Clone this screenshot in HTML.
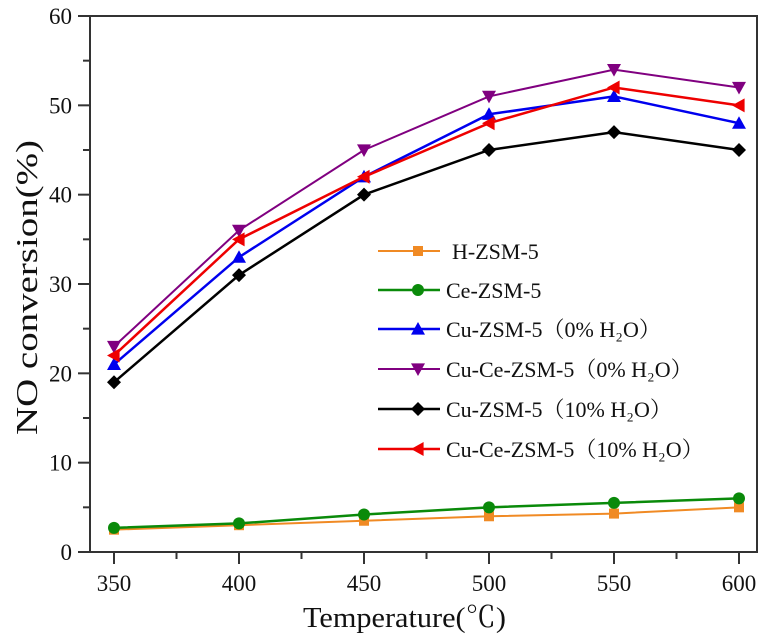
<!DOCTYPE html>
<html><head><meta charset="utf-8"><style>
html,body{margin:0;padding:0;background:#fff;}
svg{display:block;font-family:"Liberation Serif","Noto Serif CJK SC",serif;}
</style></head><body>
<svg id="chart" width="774" height="644" viewBox="0 0 774 644" xmlns="http://www.w3.org/2000/svg"></svg>
<script>
const categories = [350, 400, 450, 500, 550, 600];
const hZsm5 = [2.5, 3.0, 3.5, 4.0, 4.3, 5.0];
const ceZsm5 = [2.7, 3.2, 4.2, 5.0, 5.5, 6.0];
const cuZsm5Dry = [21, 33, 42, 49, 51, 48];
const cuCeZsm5Dry = [23, 36, 45, 51, 54, 52];
const cuZsm5Wet = [19, 31, 40, 45, 47, 45];
const cuCeZsm5Wet = [22, 35, 42, 48, 52, 50];
const yTicks = [0, 10, 20, 30, 40, 50, 60];
const xTicks = [350, 400, 450, 500, 550, 600];
const seriesNames = ["H-ZSM-5", "Ce-ZSM-5", "Cu-ZSM-5（0% H₂O）", "Cu-Ce-ZSM-5（0% H₂O）", "Cu-ZSM-5（10% H₂O）", "Cu-Ce-ZSM-5（10% H₂O）"];

const NS = "http://www.w3.org/2000/svg";
const svg = document.getElementById("chart");
const L = 90, R = 757, T = 16, B = 552;
const xS = v => 114 + (v - 350) * 2.5;
const yS = v => B - v * (B - T) / 60;
function mk(tag, attrs, parent) {
  const e = document.createElementNS(NS, tag);
  for (const k in attrs) e.setAttribute(k, attrs[k]);
  (parent || svg).appendChild(e);
  return e;
}
const frame = mk("rect", {x: L, y: T, width: R - L, height: B - T, fill: "none", stroke: "#333", "stroke-width": 2});


for (let v = 0; v <= 60; v += 5) {
  const t = mk("line", {x1: L - (v % 10 === 0 ? 12 : 7), x2: L, y1: yS(v), y2: yS(v), stroke: "#333", "stroke-width": 2});
  
  
}
yTicks.forEach(v => {
  const t = mk("text", {x: 72, y: yS(v) + 8, "text-anchor": "end", "font-size": 23, fill: "#111"});
  t.textContent = v;
  
  
});
for (let v = 350; v <= 600; v += 25) {
  const t = mk("line", {x1: xS(v), x2: xS(v), y1: B, y2: B + (v % 50 === 0 ? 12 : 7), stroke: "#333", "stroke-width": 2});
  
  
}
xTicks.forEach(v => {
  const t = mk("text", {x: xS(v), y: 591, "text-anchor": "middle", "font-size": 23, fill: "#111"});
  t.textContent = v;
  
  
});
const xt = mk("text", {x: 303, y: 627, "font-size": 29, fill: "#111", textLength: 203, lengthAdjust: "spacingAndGlyphs"});
xt.textContent = "Temperature(℃)";


const yt = mk("text", {x: 0, y: 0, "font-size": 31, fill: "#111", textLength: 295, lengthAdjust: "spacingAndGlyphs", transform: "translate(37,435) rotate(-90)"});
yt.textContent = "NO conversion(%)";



function marker(type, x, y, color, g) {
  let e;
  const s = 7;
  if (type === "square") e = mk("rect", {x: x - 5, y: y - 5, width: 10, height: 10, fill: color}, g);
  else if (type === "circle") e = mk("circle", {cx: x, cy: y, r: 6, fill: color}, g);
  else if (type === "up") e = mk("polygon", {points: `${x},${y - s} ${x - s},${y + s * 0.8} ${x + s},${y + s * 0.8}`, fill: color}, g);
  else if (type === "down") e = mk("polygon", {points: `${x},${y + s} ${x - s},${y - s * 0.8} ${x + s},${y - s * 0.8}`, fill: color}, g);
  else if (type === "diamond") e = mk("polygon", {points: `${x},${y - s} ${x + s},${y} ${x},${y + s} ${x - s},${y}`, fill: color}, g);
  else e = mk("polygon", {points: `${x - s},${y} ${x + s * 0.8},${y - s} ${x + s * 0.8},${y + s}`, fill: color}, g);
  
  
}
const series = [
  {vals: hZsm5, color: "#f08a24", m: "square", w: 2},
  {vals: ceZsm5, color: "#0a8a0a", m: "circle", w: 2.5},
  {vals: cuZsm5Dry, color: "#0000ee", m: "up", w: 2.5},
  {vals: cuCeZsm5Dry, color: "#800080", m: "down", w: 2},
  {vals: cuZsm5Wet, color: "#000000", m: "diamond", w: 2.5},
  {vals: cuCeZsm5Wet, color: "#ee0000", m: "left", w: 2.5}
];
const legendY = [251, 290, 329, 369, 409, 449];
series.forEach((s, i) => {
  const g = mk("g", {});
  
  
  const pts = s.vals.map((v, j) => xS(categories[j]) + "," + yS(v)).join(" ");
  const pl = mk("polyline", {points: pts, fill: "none", stroke: s.color, "stroke-width": s.w}, g);
  
  
  s.vals.forEach((v, j) => marker(s.m, xS(categories[j]), yS(v), s.color, g));
  const lg = mk("g", {});
  
  
  const ly = legendY[i];
  mk("line", {x1: 378, x2: 440, y1: ly, y2: ly, stroke: s.color, "stroke-width": s.w}, lg);
  marker(s.m, 418, ly, s.color, lg);
  const tx = mk("text", {x: i === 0 ? 452 : 446, y: ly + 8, "font-size": 22, fill: "#111"}, lg);
  tx.textContent = seriesNames[i];
});
</script>
</body></html>
